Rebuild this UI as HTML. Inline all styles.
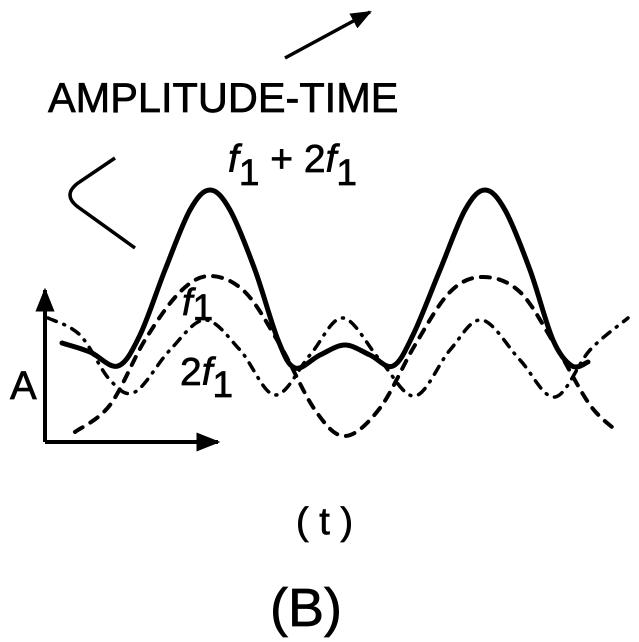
<!DOCTYPE html>
<html><head><meta charset="utf-8"><style>
html,body{margin:0;padding:0;background:#fff;}
svg{display:block;font-family:"Liberation Sans",Arial,sans-serif;}
text{stroke:#000;stroke-width:0.7;}
</style></head><body>
<svg width="639" height="642" viewBox="0 0 639 642">
<defs>
<marker id="ah" viewBox="0 0 10 10" refX="9" refY="5" markerWidth="6" markerHeight="6" orient="auto"><path d="M0,1 L10,5 L0,9 z" fill="#000"/></marker>
</defs>
<line x1="285" y1="58" x2="370" y2="12" stroke="#000" stroke-width="3.5" marker-end="url(#ah)"/>
<text x="48" y="112" font-size="41.5">AMPLITUDE-TIME</text>
<path d="M115,158 L78,183 Q62,195 78,207 L135,248" fill="none" stroke="#000" stroke-width="3.5"/>
<text x="228" y="172" font-size="39"><tspan font-style="italic">f</tspan><tspan dy="13" font-size="37">1</tspan><tspan dy="-13"> + 2</tspan><tspan font-style="italic">f</tspan><tspan dy="13" font-size="37">1</tspan></text>
<line x1="45" y1="442" x2="45" y2="290" stroke="#000" stroke-width="4" marker-end="url(#ah)"/>
<line x1="45" y1="442" x2="218" y2="442" stroke="#000" stroke-width="4" marker-end="url(#ah)"/>
<text x="10" y="399" font-size="40">A</text>
<text x="296" y="534" font-size="38">( t )</text>
<text x="270" y="626" font-size="54">(B)</text>
<text x="182" y="315" font-size="38"><tspan font-style="italic">f</tspan><tspan dy="5" font-size="37">1</tspan></text>
<text x="180" y="385" font-size="39">2<tspan font-style="italic">f</tspan><tspan dy="12" font-size="37">1</tspan></text>
<g id="series"></g>
</svg>
<script>
// f1 (long dashed) sample points
const f1X = [75,110,145,180,210,245,280,315,345,380,415,450,483,520,555,590,618];
const f1Y = [432,405,340,292,276,292,345,410,436,408,345,292,277,292,345,405,432];
// 2f1 (dash-dot)
const f2X = [48,80,110,135,170,205,240,275,310,343,380,415,450,482,520,555,590,628];
const f2Y = [318,335,380,392,350,320,350,395,355,318,360,396,350,320,360,397,350,318];
// sum f1 + 2f1 (solid)
const sX = [62,90,118,140,165,190,210,230,255,278,295,320,345,370,393,413,440,465,485,505,530,553,572,588];
const sY = [343,352,366,335,270,210,190,210,270,340,368,355,345,355,366,335,270,210,190,210,270,340,366,362];

const g = document.getElementById('series');
function path(xs, ys){
  let d = 'M' + xs[0] + ',' + ys[0];
  for (let i = 0; i < xs.length - 1; i++){
    const x0 = xs[Math.max(i-1,0)], y0 = ys[Math.max(i-1,0)];
    const x1 = xs[i], y1 = ys[i], x2 = xs[i+1], y2 = ys[i+1];
    const x3 = xs[Math.min(i+2,xs.length-1)], y3 = ys[Math.min(i+2,xs.length-1)];
    const c1x = x1 + (x2-x0)/6, c1y = y1 + (y2-y0)/6;
    const c2x = x2 - (x3-x1)/6, c2y = y2 - (y3-y1)/6;
    d += ' C' + c1x + ',' + c1y + ' ' + c2x + ',' + c2y + ' ' + x2 + ',' + y2;
  }
  return d;
}
function add(xs, ys, dash, w){
  const p = document.createElementNS('http://www.w3.org/2000/svg','path');
  p.setAttribute('d', path(xs, ys));
  p.setAttribute('fill','none');
  p.setAttribute('stroke','#000');
  p.setAttribute('stroke-width', w);
  p.setAttribute('stroke-linecap','round');
  if (dash) p.setAttribute('stroke-dasharray', dash);
  g.appendChild(p);
  return p;
}
const a = add(f1X, f1Y, '9 9', 4);


const b = add(f2X, f2Y, '9 8 1 8', 3.5);


const c = add(sX, sY, null, 5);


</script>
</body></html>
